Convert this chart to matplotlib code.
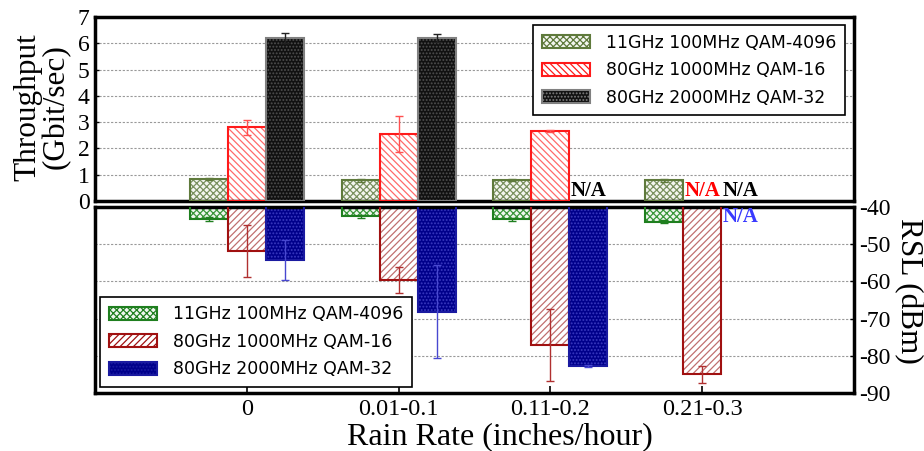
import matplotlib
matplotlib.use('Agg')
import matplotlib.patches
import matplotlib.pyplot as plt
import numpy as np

plt.rcParams['axes.unicode_minus'] = False
plt.rcParams['hatch.linewidth'] = 0.9

nan = np.nan

rain_rates = ['0', '0.01-0.1', '0.11-0.2', '0.21-0.3']
series_names = ['11GHz 100MHz QAM-4096', '80GHz 1000MHz QAM-16',
                '80GHz 2000MHz QAM-32']

# Throughput (Gbit/sec); nan means N/A.
tput_11g = [0.82, 0.79, 0.81, 0.78]
tput_11g_err = [0.04, 0.05, 0.04, 0.06]
tput_80g_1000 = [2.80, 2.55, 2.66, nan]
tput_80g_1000_err = [0.30, 0.67, 0.04, nan]
tput_80g_2000 = [6.20, 6.20, nan, nan]
tput_80g_2000_err = [0.20, 0.16, nan, nan]

# RSL (dBm); nan means N/A.
rsl_11g = [-43.2, -42.5, -43.3, -44.0]
rsl_11g_err = [0.5, 0.4, 0.4, 0.4]
rsl_80g_1000 = [-51.9, -59.6, -77.1, -85.0]
rsl_80g_1000_err = [7.0, 3.5, 9.8, 2.2]
rsl_80g_2000 = [-54.3, -68.2, -82.8, nan]
rsl_80g_2000_err = [5.4, 12.5, 0.3, nan]

SERIF = 'Liberation Serif'
SANS = 'DejaVu Sans'

# (face, hatch colour, edge colour, hatch, error colour, N/A colour)
top_styles = [
    ('#f4f6f0', '#7a9160', '#5f7a3c', 'xxxxx', '#5f7a3c', '#5f7a3c'),
    ('white', '#ff6a6a', '#ff1a1a', '\\\\\\\\\\', '#ff5050', '#ff0000'),
    ('#111111', '#505050', '#808080', '.....', '#222222', 'black'),
]
bottom_styles = [
    ('#f0f7f0', '#3a963a', '#1f7f1f', 'xxxxx', '#1f7f1f', '#1f7f1f'),
    ('white', '#c07070', '#a01010', '/////', '#b03030', '#a01010'),
    ('#00008b', '#3a3ac0', '#1a1aa0', '.....', '#4848d0', '#3a3aff'),
]

W, H = 924, 451


def draw_bars(axes, series, errors, styles, base, na_va):
    x = np.arange(len(rain_rates))
    width = 0.25
    handles = []
    for i, (vals, errs, st) in enumerate(zip(series, errors, styles)):
        face, hatch_c, edge_c, hatch, err_c, na_c = st
        vals = np.asarray(vals, dtype=float)
        pos = x + (i - 1) * width
        axes.bar(pos, vals, width, color=face, edgecolor=hatch_c,
                 hatch=hatch, linewidth=0, zorder=2)
        axes.bar(pos, vals, width, fill=False, edgecolor=edge_c,
                 linewidth=1.5, zorder=3)
        axes.errorbar(pos, vals, yerr=errs, fmt='none', ecolor=err_c,
                      elinewidth=1, capsize=3, capthick=1, zorder=4)
        for p, v in zip(pos, vals):
            if np.isnan(v):
                axes.text(p, base, 'N/A', ha='center', va=na_va,
                          color=na_c, fontsize=15, fontweight='bold',
                          family=SERIF, zorder=5)
        handles.append(matplotlib.patches.Patch(
            facecolor=face, edgecolor=edge_c, hatch=hatch, linewidth=1.5))
    return handles


def style_axes(axes):
    for spine in axes.spines.values():
        spine.set_linewidth(2.5)
        spine.set_color('black')
    axes.set_xlim(-1, 4)
    axes.yaxis.grid(True, color='#999999', linestyle=(0, (2, 1.5)),
                    linewidth=0.8, zorder=0)
    axes.set_axisbelow(True)


def add_legend(axes, handles, loc, anchor_px):
    leg = axes.legend(
        handles, series_names, loc=loc,
        bbox_to_anchor=(anchor_px[0] / W, 1 - anchor_px[1] / H),
        bbox_transform=axes.figure.transFigure, borderaxespad=0,
        prop=dict(family=SANS, size=12.5), frameon=True, fancybox=False,
        edgecolor='black', framealpha=1, handlelength=2.8,
        handleheight=0.75, handletextpad=0.9, labelspacing=0.55,
        borderpad=0.5)
    leg.get_frame().set_linewidth(1.2)


fig = plt.figure(figsize=(9.24, 4.51), dpi=100)
ax_t = fig.add_axes([95 / W, 1 - 201 / H, 759 / W, 184 / H])
ax_b = fig.add_axes([95 / W, 1 - 393 / H, 759 / W, 186 / H])

# Throughput panel
style_axes(ax_t)
ax_t.set_ylim(0, 7)
ax_t.set_yticks(range(0, 8))
ax_t.set_xticks([])
ax_t.tick_params(axis='y', direction='in', length=3, width=1, pad=4)
for lbl in ax_t.get_yticklabels():
    lbl.set_fontfamily(SERIF)
    lbl.set_fontsize(17)
h_top = draw_bars(ax_t, [tput_11g, tput_80g_1000, tput_80g_2000],
                  [tput_11g_err, tput_80g_1000_err, tput_80g_2000_err],
                  top_styles, 0, 'bottom')
ax_t.set_ylabel('Throughput\n(Gbit/sec)', family=SERIF, fontsize=22.5,
                linespacing=0.95, ha='center', va='center')
ax_t.yaxis.set_label_coords((42 - 95) / 759, (201 - 107) / 184)
add_legend(ax_t, h_top, 'upper right', (845, 25))

# RSL panel
style_axes(ax_b)
ax_b.set_ylim(-90, -40)
ax_b.set_yticks(range(-90, -39, 10))
ax_b.yaxis.tick_right()
ax_b.yaxis.set_label_position('right')
ax_b.tick_params(axis='y', direction='in', length=3, width=1, pad=4)
ax_b.set_xticks(np.arange(len(rain_rates)))
ax_b.set_xticklabels(rain_rates)
ax_b.tick_params(axis='x', direction='in', length=5, width=1.2, pad=4)
for lbl in ax_b.get_yticklabels():
    lbl.set_fontfamily(SERIF)
    lbl.set_fontsize(17)
for lbl in ax_b.get_xticklabels():
    lbl.set_fontfamily(SERIF)
    lbl.set_fontsize(17.5)
h_bot = draw_bars(ax_b, [rsl_11g, rsl_80g_1000, rsl_80g_2000],
                  [rsl_11g_err, rsl_80g_1000_err, rsl_80g_2000_err],
                  bottom_styles, -40, 'top')
ax_b.set_ylabel('RSL (dBm)', family=SERIF, fontsize=22.5, rotation=270,
                ha='center', va='center')
ax_b.yaxis.set_label_coords((908 - 95) / 759, (393 - 291) / 186)
ax_b.set_xlabel('Rain Rate (inches/hour)', family=SERIF, fontsize=23,
                ha='center', va='center')
ax_b.xaxis.set_label_coords((499.5 - 95) / 759, -(437 - 393) / 186)
add_legend(ax_b, h_bot, 'lower left', (100, 387))

fig.savefig('out.png', dpi=100)
